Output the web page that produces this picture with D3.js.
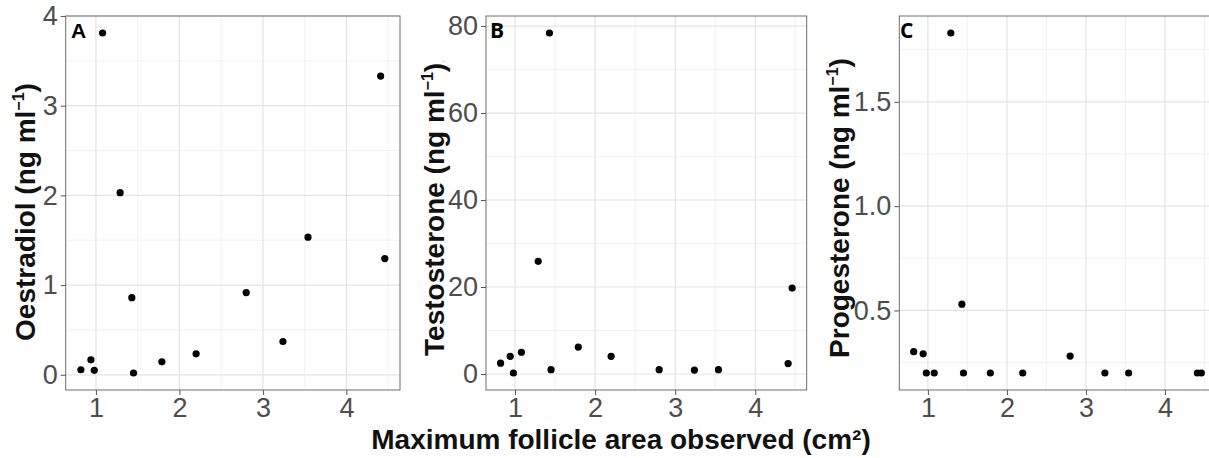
<!DOCTYPE html>
<html>
<head>
<meta charset="utf-8">
<script src="https://cdn.jsdelivr.net/npm/d3@7"></script>
<style>
  body { margin: 0; background: #fff; }
  text { font-family: "Liberation Sans", Arial, sans-serif; }
</style>
</head>
<body>
<div id="chart"></div>
<script>
// follicle area (cm2) shared by all three panels
const follicleArea = [0.82, 0.94, 0.98, 1.08, 1.29, 1.43, 1.45, 1.79, 2.20, 2.80, 3.24, 3.54, 4.41, 4.46];
const oestradiol   = [0.056, 0.167, 0.05, 3.81, 2.03, 0.86, 0.02, 0.145, 0.234, 0.917, 0.371, 1.534, 3.33, 1.296];
const testosterone = [2.5, 4.06, 0.23, 5.0, 25.9, 78.4, 1.0, 6.2, 4.06, 1.0, 0.9, 1.0, 2.4, 19.75];
const progesterone = [0.302, 0.292, 0.2, 0.2, 1.83, 0.53, 0.2, 0.2, 0.2, 0.281, 0.2, 0.2, 0.2, 0.2];

const xTicks = [1, 2, 3, 4];
const xMinor = [1.5, 2.5, 3.5, 4.5];
const oestradiolTicks = [0, 1, 2, 3, 4];
const oestradiolMinor = [0.5, 1.5, 2.5, 3.5];
const testosteroneTicks = [0, 20, 40, 60, 80];
const testosteroneMinor = [10, 30, 50, 70];
const progesteroneTicks = [0.5, 1.0, 1.5];
const progesteroneMinor = [0.25, 0.75, 1.25, 1.75];

const width = 1209, height = 458;
const plotTop = 16, plotBottom = 390;

const svg = d3.select("#chart").append("svg")
    .attr("width", width)
    .attr("height", height);

// ggplot style 5% expansion
const expand = ext => {
    const r = ext[1] - ext[0];
    return [ext[0] - 0.05 * r, ext[1] + 0.05 * r];
};

const xDomain = expand(d3.extent(follicleArea));

const panels = [
    { letter: "A", values: oestradiol, ticks: oestradiolTicks, minor: oestradiolMinor, fmt: d3.format("d"),
      left: 65.7, right: 400, name: "Oestradiol", titleX: 35, titleY: 212, letterX: 71, letterFont: "Liberation Sans" },
    { letter: "B", values: testosterone, ticks: testosteroneTicks, minor: testosteroneMinor, fmt: d3.format("d"),
      left: 486, right: 806.7, name: "Testosterone", titleX: 444, titleY: 208, letterX: 490, letterFont: "Open Sans", dot: true },
    { letter: "C", values: progesterone, ticks: progesteroneTicks, minor: progesteroneMinor, fmt: d3.format(".1f"),
      left: 899.3, right: 1215.7, name: "Progesterone", titleX: 849, titleY: 208, letterX: 900, letterFont: "Open Sans" }
];

panels.forEach(p => {
    const x = d3.scaleLinear().domain(xDomain).range([p.left, p.right]);
    const y = d3.scaleLinear().domain(expand(d3.extent(p.values))).range([plotBottom, plotTop]);

    const g = svg.append("g");

    // minor grid
    g.selectAll(".vminor").data(xMinor).enter().append("line")
        .attr("x1", d => x(d)).attr("x2", d => x(d))
        .attr("y1", plotTop).attr("y2", plotBottom)
        .attr("stroke", "#efefef").attr("stroke-width", 0.8);
    g.selectAll(".hminor").data(p.minor).enter().append("line")
        .attr("y1", d => y(d)).attr("y2", d => y(d))
        .attr("x1", p.left).attr("x2", p.right)
        .attr("stroke", "#efefef").attr("stroke-width", 0.8);

    // major grid
    g.selectAll(".vmajor").data(xTicks).enter().append("line")
        .attr("x1", d => x(d)).attr("x2", d => x(d))
        .attr("y1", plotTop).attr("y2", plotBottom)
        .attr("stroke", "#e3e3e3").attr("stroke-width", 1.2);
    g.selectAll(".hmajor").data(p.ticks).enter().append("line")
        .attr("y1", d => y(d)).attr("y2", d => y(d))
        .attr("x1", p.left).attr("x2", p.right)
        .attr("stroke", "#e3e3e3").attr("stroke-width", 1.2);

    // points
    g.selectAll("circle").data(follicleArea).enter().append("circle")
        .attr("cx", d => x(d))
        .attr("cy", (d, i) => y(p.values[i]))
        .attr("r", 3.6)
        .attr("fill", "#000");

    // panel border
    g.append("rect")
        .attr("x", p.left).attr("y", plotTop)
        .attr("width", p.right - p.left).attr("height", plotBottom - plotTop)
        .attr("fill", "none").attr("stroke", "#6f6f6f").attr("stroke-width", 1);

    // axes
    const ax = g.append("g")
        .attr("transform", `translate(0,${plotBottom})`)
        .call(d3.axisBottom(x).tickValues(xTicks).tickSize(5).tickPadding(3).tickFormat(d3.format("d")));
    const ay = g.append("g")
        .attr("transform", `translate(${p.left},0)`)
        .call(d3.axisLeft(y).tickValues(p.ticks).tickSize(5).tickPadding(3).tickFormat(p.fmt));
    [ax, ay].forEach(a => {
        a.select(".domain").remove();
        a.selectAll(".tick line").attr("stroke", "#555");
        a.selectAll(".tick text")
            .style("font-size", "27px")
            .style("font-family", "Liberation Sans, Arial, sans-serif")
            .attr("fill", "#4d4d4d");
    });

    // panel letter
    g.append("text")
        .attr("x", p.letterX).attr("y", 38)
        .style("font-family", p.letterFont)
        .style("font-weight", "bold")
        .style("font-size", "21px")
        .attr("fill", "#000")
        .text(p.letter);

    // y title
    const t = g.append("text")
        .attr("transform", `translate(${p.titleX},${p.titleY}) rotate(-90)`)
        .attr("text-anchor", "middle")
        .style("font-weight", "bold")
        .style("font-size", "28px")
        .attr("fill", "#111");
    t.append("tspan").text(p.name + " (ng ml");
    t.append("tspan").text("\u22121").attr("dy", -11).style("font-size", "16px");
    t.append("tspan").text(")").attr("dy", 11);
    if (p.dot) {
        t.append("tspan").text(".").style("font-size", "10px").style("font-weight", "normal").attr("fill", "#999");
    }
});

// shared x title
svg.append("text")
    .attr("x", 621).attr("y", 449)
    .attr("text-anchor", "middle")
    .style("font-weight", "bold")
    .style("font-size", "28px")
    .attr("fill", "#111")
    .text("Maximum follicle area observed (cm\u00b2)");
</script>
</body>
</html>
